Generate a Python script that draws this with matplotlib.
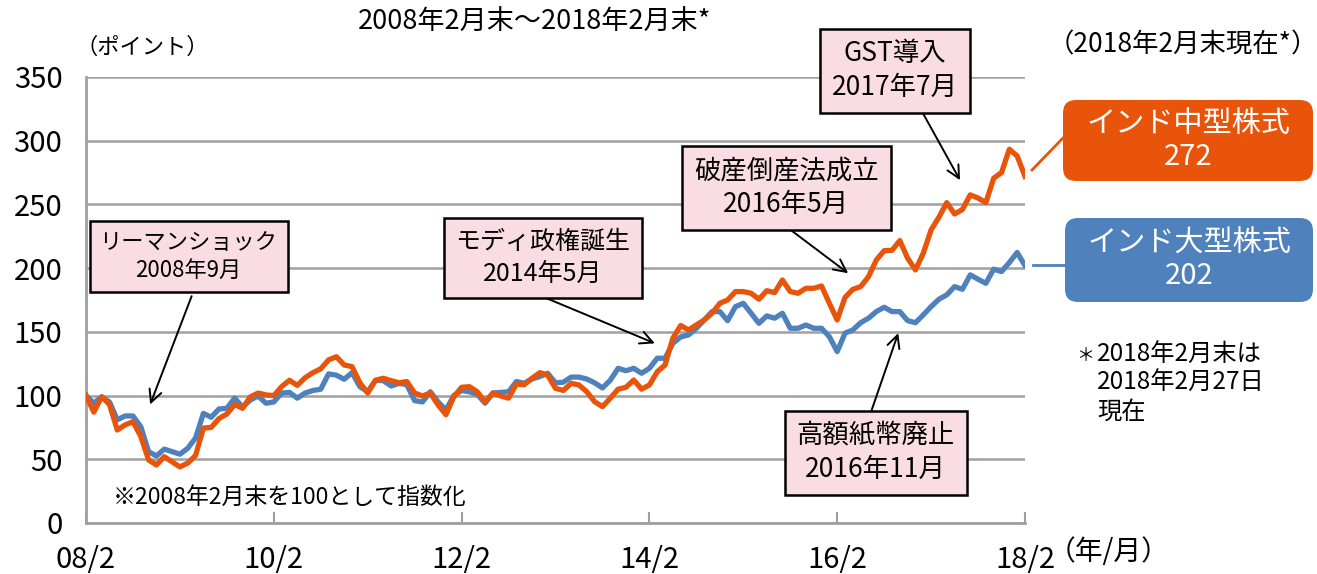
import numpy as np
import matplotlib
matplotlib.use("Agg")
import matplotlib.pyplot as plt
from matplotlib.patches import FancyBboxPatch
from matplotlib.lines import Line2D

plt.rcParams['font.family'] = ['Noto Sans CJK JP', 'DejaVu Sans']

# month-end index values, Feb 2008 .. Feb 2018 (121 months)
mid_cap = [
    100, 87, 99, 93, 73, 77, 79.5, 68, 49.5, 45.5,
    52, 48, 44, 47, 53, 74.5, 75, 82, 85.5, 93,
    90, 99, 102, 100.5, 100, 107, 112, 108, 114, 118,
    121, 128, 130.5, 124, 122.7, 110, 102, 112, 113.6, 111.7,
    110, 111, 102, 99.7, 102, 92.6, 85, 99, 106.5, 107,
    103, 95, 102, 99.7, 98, 109, 108.5, 113.6, 118, 116,
    105.7, 104, 109.6, 108.3, 103, 95.2, 91.3, 97.9, 105, 106.5,
    112.2, 105, 108.3, 118.7, 124, 145, 155, 151.5, 155.4, 159.3,
    164.6, 172.4, 175, 181.6, 181.6, 180.3, 175.6, 182.3, 180.8, 190.7,
    181.6, 180.3, 184.2, 184.2, 186, 172.4, 159.3, 177, 183.4, 185.5,
    193.3, 206.4, 213.7, 214, 221.6, 207.8, 198.6, 211.7, 230, 240,
    251.4, 242.5, 246, 257.5, 255, 251.4, 270.6, 275, 293.3, 288,
    272,
]
large_cap = [
    100, 94, 99, 95, 81, 84, 84, 75.6, 56, 52.6,
    58, 56, 54, 58.6, 66.7, 86, 83, 89.5, 90, 98,
    91, 96.5, 99.7, 94, 95, 102, 102.5, 98, 102, 104,
    105, 117, 116, 112.8, 118, 107, 103, 112, 111.7, 107.5,
    109.7, 108.5, 96, 95, 103, 95, 88.7, 100, 104, 103,
    101, 94, 102, 102.5, 103, 111, 109.7, 113, 115, 117.5,
    110, 110.5, 114.5, 114.5, 113, 110, 106, 112, 121.4, 119.5,
    121.4, 117.5, 121.4, 129.3, 129.3, 141, 146, 147.6, 152.8, 159.3,
    165.9, 165.9, 158.8, 169.8, 172.4, 164.6, 156.7, 162.5, 160.7, 164.6,
    152.8, 152.8, 155.4, 152.8, 152.8, 146.2, 134.5, 149, 151.5, 157.2,
    160.7, 165.9, 169.3, 165.9, 165.9, 158.8, 157.2, 163.3, 169.8, 175.6,
    179, 185.5, 183.4, 194.7, 191.3, 188.1, 199.2, 197.3, 204.4, 212.3,
    202,
]
x_ticks = [0, 24, 48, 72, 96, 120]
x_labels = ['08/2', '10/2', '12/2', '14/2', '16/2', '18/2']
y_ticks = [0, 50, 100, 150, 200, 250, 300, 350]

# events: (label, box centre, arrow start, arrow tip) in month/points
events = [
    ('リーマンショック\n2008年9月', (13.1, 209), (13.5, 178), (8.2, 93)),
    ('モディ政権誕生\n2014年5月', (58.4, 208), (58.8, 176.5), (72.7, 141)),
    ('破産倒産法成立\n2016年5月', (89.5, 263), (89.4, 233), (97.4, 196)),
    ('GST導入\n2017年7月', (103.4, 355), (106.6, 325.5), (111.7, 269)),
    ('高額紙幣廃止\n2016年11月', (100.9, 55.3), (100.2, 85), (103.8, 149)),
]
event_sizes = [16, 18, 19, 19, 19]

orange = '#E8550A'
blue = '#4F81BD'
grid_gray = '#A0A0A0'

fig = plt.figure(figsize=(13.17, 5.74), dpi=100)
ax = fig.add_axes([86 / 1317, 51 / 574, 939 / 1317, 446 / 574])

months = np.arange(len(mid_cap))
ax.plot(months, large_cap, color=blue, lw=3.8, solid_joinstyle='round', zorder=3)
ax.plot(months, mid_cap, color=orange, lw=3.8, solid_joinstyle='round', zorder=4)

ax.set_xlim(0, 120)
ax.set_ylim(0, 350)
ax.set_yticks(y_ticks)
ax.set_xticks(x_ticks)
ax.set_xticklabels(x_labels)
ax.tick_params(axis='y', length=0, pad=17, labelsize=21)
ax.tick_params(axis='x', direction='in', length=8, width=1.5, color=grid_gray,
               pad=16, labelsize=21)
for s in ['top', 'right']:
    ax.spines[s].set_visible(False)
for s in ['left', 'bottom']:
    ax.spines[s].set_color(grid_gray)
    ax.spines[s].set_linewidth(2)
ax.yaxis.grid(True, color=grid_gray, lw=1.8)
ax.set_axisbelow(True)

# pink event boxes + arrows
for (label, centre, start, tip), fs in zip(events, event_sizes):
    ax.text(centre[0], centre[1], label, ha='center', va='center', fontsize=fs,
            linespacing=1.3, zorder=6,
            bbox=dict(boxstyle='square,pad=0.45', fc='#FADDE4', ec='black', lw=1.8))
    ax.annotate('', xy=tip, xytext=start, zorder=5, annotation_clip=False,
                arrowprops=dict(arrowstyle='->,head_length=0.9,head_width=0.45',
                                color='black', lw=1.4, shrinkA=0, shrinkB=0))

ax.text(3.4, 20.5, '※2008年2月末を100として指数化', fontsize=16.5, va='center', ha='left')

# texts around the plot
fig.text(535 / 1317, 1 - 22 / 574, '2008年2月末～2018年2月末*', ha='center', va='center', fontsize=19.5)
fig.text(142 / 1317, 1 - 47 / 574, '（ポイント）', ha='center', va='center', fontsize=16)
fig.text(1183 / 1317, 1 - 45 / 574, '（2018年2月末現在*）', ha='center', va='center', fontsize=19)
fig.text(1048 / 1317, 1 - 552 / 574, '（年/月）', ha='left', va='center', fontsize=20)
fig.text(1076 / 1317, 1 - 356 / 574, '＊', ha='left', va='center', fontsize=13)
fig.text(1097 / 1317, 1 - 383 / 574, '2018年2月末は\n2018年2月27日\n現在', ha='left', va='center',
         fontsize=17.5, linespacing=1.12)

# right-hand value boxes (inches, from bottom-left)
tr = fig.dpi_scale_trans
for (x0, top, w, h, col, txt) in [
    (10.63, 1.00, 2.50, 0.81, orange, 'インド中型株式\n272'),
    (10.65, 2.18, 2.48, 0.84, blue, 'インド大型株式\n202'),
]:
    y0 = 5.74 - top - h
    fig.patches.append(FancyBboxPatch((x0, y0), w, h, boxstyle='round,pad=0,rounding_size=0.13',
                                      transform=tr, fc=col, ec='none'))
    fig.text(x0 + w / 2, y0 + h / 2, txt, transform=tr, ha='center', va='center',
             color='white', fontsize=21, linespacing=1.1)

fig.lines.append(Line2D([10.32, 10.63], [5.74 - 1.70, 5.74 - 1.38], transform=tr, color=orange, lw=2))
fig.lines.append(Line2D([10.33, 10.65], [5.74 - 2.65, 5.74 - 2.65], transform=tr, color=blue, lw=2))

fig.savefig('out.png', dpi=100)
